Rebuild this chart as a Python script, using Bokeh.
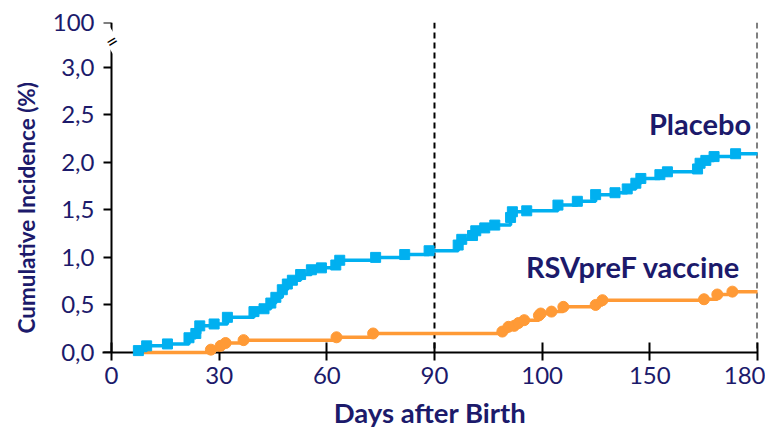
import math
from bokeh.plotting import figure
from bokeh.models import Range1d, FixedTicker, Span, Label, Title, LinearAxis
from bokeh.embed import file_html
from bokeh.resources import INLINE

# ---- data ----
placebo_days = [7.5, 9.8, 15.6, 21.6, 23.5, 24.6, 28.6, 32.3, 39.7, 42.5, 44.4, 45.8,
                47.6, 49.0, 50.4, 52.7, 55.7, 58.5, 62.5, 63.6, 73.6, 81.7, 88.5, 96.6,
                97.6, 100.6, 101.5, 104.0, 106.8, 111.2, 111.7, 115.7, 124.4, 129.8,
                134.9, 140.3, 143.7, 146.1, 147.5, 152.8, 154.9, 163.3, 164.0, 165.6,
                167.9, 173.9]
placebo_pct = [0.02, 0.07, 0.09, 0.155, 0.20, 0.28, 0.30, 0.37, 0.43, 0.46, 0.52, 0.58,
               0.66, 0.72, 0.76, 0.82, 0.87, 0.89, 0.92, 0.97, 1.00, 1.03, 1.07, 1.13,
               1.19, 1.23, 1.28, 1.31, 1.34, 1.42, 1.48, 1.49, 1.55, 1.59,
               1.66, 1.68, 1.72, 1.78, 1.83, 1.87, 1.90, 1.93, 1.99, 2.02,
               2.06, 2.09]

vaccine_start_day = 9.0
vaccine_start_pct = 0.0
vaccine_days = [27.7, 30.4, 31.8, 36.8, 62.7, 72.9, 108.9, 110.6, 112.2, 113.4, 115.0,
                119.1, 119.6, 122.6, 125.9, 134.9, 136.8, 165.1, 168.8, 173.0]
vaccine_pct = [0.03, 0.07, 0.10, 0.13, 0.16, 0.20, 0.22, 0.27, 0.28, 0.31, 0.34,
               0.39, 0.41, 0.43, 0.48, 0.50, 0.55, 0.56, 0.61, 0.64]

end_day = 180
x_ticks = [0, 30, 60, 90, 120, 150, 180]
x_tick_labels = ["0", "30", "60", "90", "100", "150", "180"]
y_ticks = [0, 0.5, 1.0, 1.5, 2.0, 2.5, 3.0]
y_tick_labels = ["0,0", "0,5", "1,0", "1,5", "2,0", "2,5", "3,0"]
y_break_top_pos = 3.47       # axis position used for the "100" label above the break
y_break_top_label = "100"
y_break_pos = 3.28
ref_days = [90, 180]

NAVY = "#1c1a6b"
BLUE = "#00B0F0"
ORANGE = "#FF9A36"
FONT = "Lato"

p = figure(frame_width=655, frame_height=330, output_backend="svg", toolbar_location=None,
           x_range=Range1d(-2.5, end_day), y_range=Range1d(0, y_break_top_pos),
           min_border_left=102, min_border_right=8, min_border_top=22, min_border_bottom=74)
p.outline_line_color = None
p.grid.grid_line_color = None
p.background_fill_color = "white"

all_y_ticks = y_ticks + [y_break_top_pos]
ylab = {t: l for t, l in zip(y_ticks, y_tick_labels)}
ylab[y_break_top_pos] = y_break_top_label

# x axis
xa = p.xaxis[0]
xa.ticker = FixedTicker(ticks=x_ticks)
xa.major_label_overrides = {t: l for t, l in zip(x_ticks, x_tick_labels)}
xa.axis_line_width = 2
xa.axis_line_color = "black"
xa.major_tick_line_width = 2
xa.major_tick_line_color = "black"
xa.minor_tick_line_color = None
xa.major_tick_in = 10
xa.major_tick_out = 8
xa.major_label_standoff = 6
xa.major_label_text_color = NAVY
xa.major_label_text_font = FONT
xa.major_label_text_font_size = "24px"
xa.axis_label = "Days after Birth"
xa.axis_label_text_font = FONT
xa.axis_label_text_font_style = "bold"
xa.axis_label_text_font_size = "27.5px"
xa.axis_label_text_color = NAVY
xa.axis_label_standoff = 9

# y axis: labels in the side panel
ya = p.yaxis[0]
ya.ticker = FixedTicker(ticks=all_y_ticks)
ya.major_label_overrides = ylab
ya.axis_line_color = None
ya.major_tick_line_color = None
ya.minor_tick_line_color = None
ya.major_tick_in = 0
ya.major_tick_out = 0
ya.major_label_standoff = 8
ya.major_label_text_color = NAVY
ya.major_label_text_font = FONT
ya.major_label_text_font_size = "24px"

# y axis line and ticks drawn at day 0
ya0 = LinearAxis(fixed_location=0, ticker=FixedTicker(ticks=all_y_ticks),
                 major_label_overrides={t: "" for t in all_y_ticks},
                 major_label_text_font_size="0px",
                 axis_line_width=2, axis_line_color="black",
                 major_tick_line_width=2, major_tick_line_color="black",
                 major_tick_in=0, major_tick_out=8, minor_tick_line_color=None)
p.add_layout(ya0, "left")

yt = Title(text="Cumulative Incidence (%)", align="left", offset=19,
           text_font=FONT, text_font_style="bold", text_font_size="22.5px",
           text_color=NAVY)
if "standoff" in yt.properties():
    yt.standoff = 20
p.add_layout(yt, "left")

# reference dashed lines
for d in ref_days:
    p.add_layout(Span(location=d, dimension="height", line_color="black",
                      line_dash="6 4", line_width=2))

# vaccine
vx = [vaccine_start_day] + vaccine_days + [end_day]
vy = [vaccine_start_pct] + vaccine_pct + [vaccine_pct[-1]]
r1 = p.step(vx, vy, mode="after", line_color=ORANGE, line_width=3.5)
r2 = p.scatter(vaccine_days, vaccine_pct, marker="circle", size=11,
               fill_color=ORANGE, line_color=ORANGE)

# placebo
px = placebo_days + [end_day]
py = placebo_pct + [placebo_pct[-1]]
r3 = p.step(px, py, mode="after", line_color=BLUE, line_width=3.5)
r4 = p.scatter(placebo_days, placebo_pct, marker="square", size=10,
               fill_color=BLUE, line_color=BLUE)
for r in (r1, r2, r3, r4):
    r.level = "overlay"

# axis break mark
p.add_layout(Label(x=0, y=y_break_pos, text="=", angle=0.55, text_align="center",
                   text_baseline="middle", text_font_size="20px", text_color="black",
                   text_font=FONT, background_fill_color="white"))

# series labels
p.add_layout(Label(x=178.2, y=2.41, text="Placebo", text_align="right",
                   text_baseline="middle", text_font=FONT, text_font_style="bold",
                   text_font_size="29px", text_color=NAVY))
p.add_layout(Label(x=175.3, y=0.90, text="RSVpreF vaccine", text_align="right",
                   text_baseline="middle", text_font=FONT, text_font_style="bold",
                   text_font_size="29px", text_color=NAVY))

open("out.html", "w").write(file_html(p, INLINE))
